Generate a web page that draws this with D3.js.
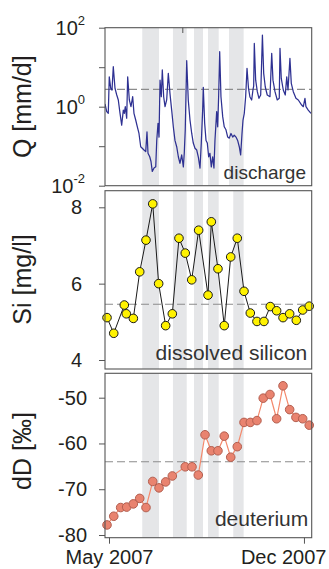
<!DOCTYPE html>
<html>
<head>
<meta charset="utf-8">
<script src="https://cdn.jsdelivr.net/npm/d3@7"></script>
<style>
  body { margin: 0; background: #fff; }
  svg { display: block; font-family: "Liberation Sans", Arial, sans-serif; }
</style>
</head>
<body>
<svg id="chart" width="329" height="569"></svg>
<script>
// all times are days after 1 May 2007
const qDays = [-4.4, -2.5, -0.8, 0.3, 1.9, 3.3, 4.7, 6.6, 8.5, 10.2, 12.1, 13.9, 15.7, 16.8, 17.9, 19.4, 20.5, 22.3, 24.1, 26.0,
  27.4, 29.3, 31.1, 32.9, 34.8, 36.5, 38.4, 40.3, 41.7, 42.8, 44.7, 46.1, 47.5, 49.4, 51.3, 52.4, 53.8, 54.9, 56.0, 57.4,
  58.5, 60.0, 61.5, 63.3, 65.1, 66.9, 68.8, 70.6, 72.4, 74.3, 76.1, 77.9, 79.8, 81.6, 82.6, 83.7, 85.3, 87.0, 88.9, 90.8,
  92.5, 94.4, 96.3, 98.0, 99.9, 101.3, 102.8, 103.5, 105.0, 106.5, 107.9, 109.4, 110.8, 112.3, 113.8, 115.2, 116.3, 118.2, 119.3, 120.4,
  121.5, 122.9, 124.8, 126.5, 128.4, 130.3, 132.0, 133.9, 135.8, 137.5, 139.4, 141.2, 143.0, 144.5, 146.0, 147.1, 148.5, 150.0, 151.5, 153.1,
  154.7, 156.6, 158.0, 158.8, 159.5, 161.0, 162.8, 164.6, 166.5, 168.4, 169.8, 171.5, 173.7, 176.7, 178.6, 180.0, 182.2, 184.7, 186.9, 187.7,
  189.1, 191.3, 193.5, 195.1, 196.5, 198.6, 200.1, 202.3, 205.2, 207.8, 211.5, 213.3, 215.1, 216.2, 218.7, 221.7];
const qValues = [1.17, 0.75, 0.68, 5.7, 2.9, 2.65, 10.3, 2.9, 1.98, 1.48, 0.68, 0.34, 0.82, 0.68, 1.0, 0.51, 5.7, 1.48, 1.0, 1.79,
  0.68, 0.46, 0.31, 0.21, 0.097, 0.089, 0.080, 0.073, 0.23, 0.066, 0.054, 0.041, 0.023, 0.028, 0.030, 0.14, 0.38, 0.17, 4.7, 1.79,
  8.5, 1.79, 1.0, 1.48, 7.0, 2.18, 0.82, 0.31, 0.14, 0.097, 0.054, 0.037, 0.060, 0.030, 0.066, 0.26, 14.6, 1.48, 0.46, 0.21,
  0.12, 0.089, 0.080, 0.054, 0.028, 0.12, 0.82, 3.1, 0.38, 0.14, 0.12, 0.054, 0.066, 0.030, 0.054, 0.028, 0.14, 0.75, 0.31, 1.98,
  24.7, 1.79, 0.56, 0.31, 0.26, 0.17, 0.16, 0.21, 0.17, 0.19, 0.17, 0.14, 0.097, 0.060, 0.21, 0.46, 0.68, 1.79, 9.4, 2.97,
  1.76, 1.48, 2.65, 3.3, 40, 4.7, 2.4, 1.63, 1.98, 65, 7.0, 3.2, 1.98, 1.79, 22.5, 4.7, 2.4, 1.48, 1.63, 30,
  5.2, 2.65, 1.98, 5.7, 2.65, 16.8, 3.9, 2.4, 1.63, 1.48, 1.10, 1.0, 1.63, 1.0, 0.82, 0.68];

const siDays = [-2.2, 5.2, 16.8, 19.0, 26.7, 33.7, 40.6, 48.0, 54.5, 62.2, 69.5, 76.8, 83.7, 90.8, 98.4, 108.7,
  112.3, 119.6, 126.5, 133.6, 140.8, 148.2, 155.1, 162.4, 170.1, 177.0, 184.0, 191.0, 198.3, 205.6, 212.6, 219.8];
const siValues = [5.11, 4.70, 5.44, 5.21, 5.09, 6.31, 7.14, 8.09, 6.00, 4.90, 5.21, 7.19, 6.80, 6.10, 7.40, 5.70,
  7.62, 6.39, 4.90, 6.70, 7.19, 5.80, 5.23, 5.01, 5.01, 5.40, 5.29, 5.11, 5.21, 5.04, 5.31, 5.41];

const ddDays = [-2.2, 5.2, 12.8, 19.4, 26.7, 33.7, 40.6, 48.0, 54.9, 62.2, 69.5, 83.7, 91.1, 98.0, 105.4, 112.3,
  119.6, 126.5, 133.6, 140.8, 148.2, 155.1, 162.4, 169.3, 176.7, 184.0, 191.0, 198.3, 205.2, 212.6, 219.8];
const ddValues = [-77.8, -75.9, -74.0, -73.9, -73.2, -72.0, -74.0, -68.3, -69.7, -68.4, -67.1, -65.1, -65.1, -66.9, -58.1, -61.6,
  -61.6, -58.4, -63.0, -60.7, -55.4, -55.4, -55.0, -50.1, -49.3, -54.6, -47.4, -52.6, -54.3, -54.6, -56.0];

// grey periods
const qBands = [[36.5, 54.9], [70.2, 85.3], [93.3, 103.2], [108.7, 120.4], [131.7, 147.8]];
const chemBands = [[36.5, 54.9], [70.2, 85.3], [93.3, 103.2], [108.7, 120.4], [136.4, 147.8]];

// mean lines
const qMean = 2.75;
const siMean = 5.46;
const ddMean = -64.0;

const qTicks = [100, 10, 1, 0.1, 0.01];
const siTicks = [4, 6, 8];
const ddTicks = [-80, -70, -60, -50];
const dateTickDays = [0, 214];
const dateTickLabels = ["May 2007", "Dec 2007"];
const qMarkDays = [81];

const base = new Date(2007, 4, 1);
const toDate = d => new Date(base.getTime() + d * 864e5);

const left = 105, right = 311.7;
const frameColor = "#555";
const svg = d3.select("#chart");

const x = d3.scaleTime()
  .domain([toDate(-4.4), toDate(222.5)])
  .range([left, right]);

// build one panel: frame, bands, mean line, y axis
const panel = (id, top, bottom, y, bands, mean, ticks, labelEnd, fmt) => {
  const g = svg.append("g");
  g.append("clipPath").attr("id", "clip" + id)
    .append("rect")
    .attr("x", left).attr("y", top)
    .attr("width", right - left).attr("height", bottom - top);

  const inner = g.append("g").attr("clip-path", `url(#clip${id})`);
  inner.selectAll("rect.band")
    .data(bands)
    .join("rect")
    .attr("class", "band")
    .attr("x", d => x(toDate(d[0])))
    .attr("width", d => x(toDate(d[1])) - x(toDate(d[0])))
    .attr("y", top)
    .attr("height", bottom - top)
    .attr("fill", "#e5e6e8");

  inner.append("line")
    .attr("x1", left).attr("x2", right)
    .attr("y1", y(mean)).attr("y2", y(mean))
    .attr("stroke", "#8c8c8c")
    .attr("stroke-width", 1.1)
    .attr("stroke-dasharray", "8,4");

  const axis = d3.axisLeft(y)
    .tickValues(ticks)
    .tickSize(6)
    .tickPadding(left - 6 - labelEnd)
    .tickFormat(fmt);
  const ag = g.append("g")
    .attr("transform", `translate(${left},0)`)
    .call(axis);
  ag.select(".domain").remove();
  ag.selectAll(".tick line").attr("stroke", frameColor);
  ag.selectAll(".tick text")
    .attr("font-size", 20)
    .attr("font-family", "Liberation Sans, Arial, sans-serif")
    .attr("fill", "#231f20");

  return { g, inner, ag };
};

// ---- discharge
const yQ = d3.scaleLog().domain([0.01, 100]).range([185.7, 27.7]);
const p1 = panel(1, 27.7, 185.7, yQ, qBands, qMean, qTicks, 85, () => "");
p1.ag.selectAll(".tick text").each(function (d) {
  const e = Math.round(Math.log10(d));
  if (e % 2 !== 0) return;
  const t = d3.select(this);
  t.append("tspan").text("10");
  t.append("tspan").attr("dy", -10).attr("font-size", 13).text(String(e));
});
const qLine = d3.line()
  .x((d, i) => x(toDate(qDays[i])))
  .y(d => yQ(d));
p1.inner.append("path")
  .datum(qValues)
  .attr("d", qLine)
  .attr("fill", "none")
  .attr("stroke", "#2e3192")
  .attr("stroke-width", 1.25)
  .attr("stroke-linejoin", "round");
p1.g.selectAll("line.mark")
  .data(qMarkDays)
  .join("line")
  .attr("x1", d => x(toDate(d))).attr("x2", d => x(toDate(d)))
  .attr("y1", 27.7).attr("y2", 33)
  .attr("stroke", frameColor);

// ---- silicon
const ySi = d3.scaleLinear().domain([4, 8]).range([360, 207.3]);
const p2 = panel(2, 190.7, 369, ySi, chemBands, siMean, siTicks, 82, d => String(d));
p2.inner.append("path")
  .datum(siValues)
  .attr("d", d3.line().x((d, i) => x(toDate(siDays[i]))).y(d => ySi(d)))
  .attr("fill", "none")
  .attr("stroke", "#1a1a1a")
  .attr("stroke-width", 1);
p2.g.selectAll("circle")
  .data(siValues)
  .join("circle")
  .attr("cx", (d, i) => x(toDate(siDays[i])))
  .attr("cy", d => ySi(d))
  .attr("r", 4.3)
  .attr("fill", "#fff200")
  .attr("stroke", "#1a1a1a")
  .attr("stroke-width", 1);

// ---- deuterium
const yD = d3.scaleLinear().domain([-80, -50]).range([535, 397.7]);
const p3 = panel(3, 373.3, 537.7, yD, chemBands, ddMean, ddTicks, 87, d => String(d));
p3.inner.append("path")
  .datum(ddValues)
  .attr("d", d3.line().x((d, i) => x(toDate(ddDays[i]))).y(d => yD(d)))
  .attr("fill", "none")
  .attr("stroke", "#f4896c")
  .attr("stroke-width", 1.2);
p3.g.selectAll("circle")
  .data(ddValues)
  .join("circle")
  .attr("cx", (d, i) => x(toDate(ddDays[i])))
  .attr("cy", d => yD(d))
  .attr("r", 4.3)
  .attr("fill", "#e9836f")
  .attr("stroke", "#b35f50")
  .attr("stroke-width", 1);

// frames on top
[[27.7, 185.7], [190.7, 369], [373.3, 537.7]].forEach(([t, b]) => {
  svg.append("rect")
    .attr("x", left).attr("y", t)
    .attr("width", right - left).attr("height", b - t)
    .attr("fill", "none")
    .attr("stroke", frameColor)
    .attr("stroke-width", 1.1);
});

// panel names
const names = [["discharge", 306, 179.3, 19], ["dissolved silicon", 307.3, 360, 21], ["deuterium", 308.3, 526, 21]];
svg.selectAll("text.name")
  .data(names)
  .join("text")
  .attr("class", "name")
  .attr("x", d => d[1]).attr("y", d => d[2])
  .attr("text-anchor", "end")
  .attr("font-size", d => d[3])
  .attr("fill", "#333")
  .text(d => d[0]);

// y titles
const titles = [["Q [mm/d]", 106.7], ["Si [mg/l]", 279.5], ["dD [‰]", 451]];
svg.selectAll("text.title")
  .data(titles)
  .join("text")
  .attr("class", "title")
  .attr("transform", d => `translate(31,${d[1]}) rotate(-90)`)
  .attr("text-anchor", "middle")
  .attr("font-size", 25)
  .attr("fill", "#231f20")
  .text(d => d[0]);

// date axis
const xAxis = d3.axisBottom(x)
  .tickValues(dateTickDays.map(toDate))
  .tickSize(6)
  .tickPadding(6)
  .tickFormat((d, i) => dateTickLabels[i]);
const xg = svg.append("g")
  .attr("transform", "translate(0,537.7)")
  .call(xAxis);
xg.select(".domain").remove();
xg.selectAll(".tick line").attr("stroke", frameColor);
xg.selectAll(".tick text")
  .attr("font-size", 20)
  .attr("font-family", "Liberation Sans, Arial, sans-serif")
  .attr("fill", "#231f20")
  .each(function (d) {
    // keep labels inside the picture
    const w = this.getComputedTextLength();
    const cx = x(d);
    const over = cx + w / 2 - 326;
    if (over > 0) d3.select(this).attr("x", -over);
  });
</script>
</body>
</html>
